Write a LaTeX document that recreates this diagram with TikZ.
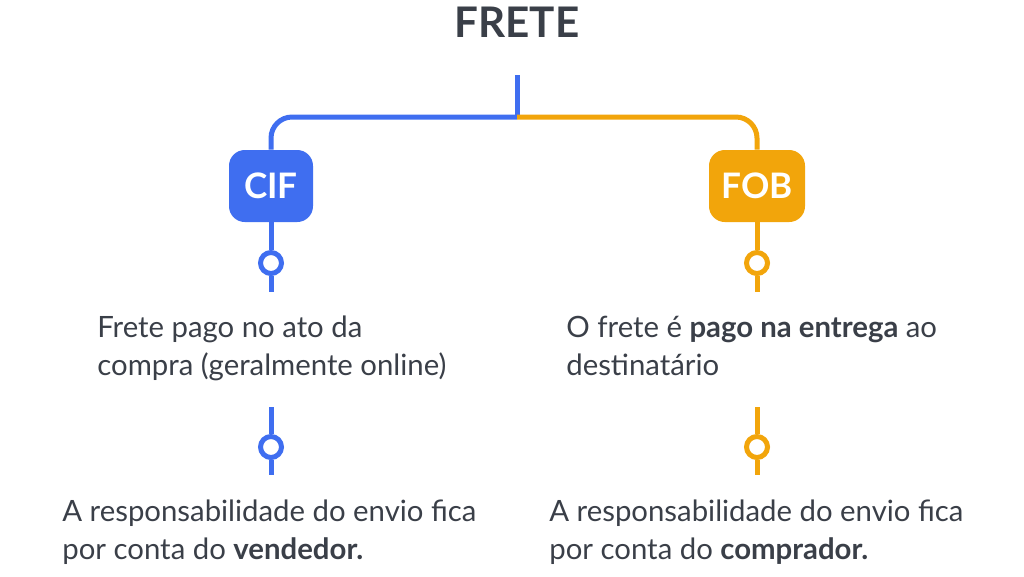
\documentclass[tikz,border=0pt]{standalone}
\usepackage{fontspec}
\setmainfont{Lato}
\usetikzlibrary{positioning}
\definecolor{cifblue}{HTML}{3F6EF0}
\definecolor{foborange}{HTML}{F2A50B}
\definecolor{txtgray}{HTML}{3A3F48}
\tikzset{
  kind/.style={fill=#1,rounded corners=9pt,minimum height=72*0.02cm,text=white,font=\fontsize{20}{23}\selectfont\bfseries},
  link/.style={line width=0.1cm,#1},
  ring/.style={circle,draw=#1,line width=0.1cm,fill=white,minimum size=0.42cm,inner sep=0pt},
  note/.style={anchor=north west,align=left,text=txtgray,font=\fontsize{16.7}{21.5}\selectfont,inner sep=0pt}
}
\begin{document}
\begin{tikzpicture}[x=0.02cm,y=-0.02cm]
\useasboundingbox (0,0) rectangle (1024,576);
\node[font=\fontsize{24}{28}\selectfont\bfseries,text=txtgray] (frete) at (517,22) {FRETE};
\coordinate (top) at (517,75);
\coordinate (fork) at (517,117);
% boxes
\node[kind=cifblue,minimum width=84*0.02cm] (cif) at (271,186) {CIF};
\node[kind=foborange,minimum width=96*0.02cm] (fob) at (757,186) {FOB};
\draw[link=cifblue,rounded corners=12pt] (fork) -- (top);
\draw[link=cifblue,rounded corners=12pt] (fork) -| (cif.north);
\draw[link=foborange,rounded corners=12pt] (fork) -| (fob.north);
% first notes
\node[ring=cifblue] (c1) at (271,263) {};
\node[ring=foborange] (f1) at (757,263) {};
\draw[link=cifblue] (cif.south) -- (c1) (c1) -- ++(0,29);
\draw[link=foborange] (fob.south) -- (f1) (f1) -- ++(0,29);
\node[note] (t1) at (97,316) {Frete pago no ato da\\compra (geralmente online)};
\node[note] (t2) at (566,316) {O frete é \textbf{pago na entrega} ao\\destinatário};
% second notes
\node[ring=cifblue] (c2) at (271,447) {};
\node[ring=foborange] (f2) at (757,447) {};
\draw[link=cifblue] (c2) -- ++(0,-40) (c2) -- ++(0,28);
\draw[link=foborange] (f2) -- ++(0,-40) (f2) -- ++(0,28);
\node[note] (t3) at (62,500) {A responsabilidade do envio fica\\por conta do \textbf{vendedor.}};
\node[note] (t4) at (549,500) {A responsabilidade do envio fica\\por conta do \textbf{comprador.}};
\end{tikzpicture}
\end{document}
